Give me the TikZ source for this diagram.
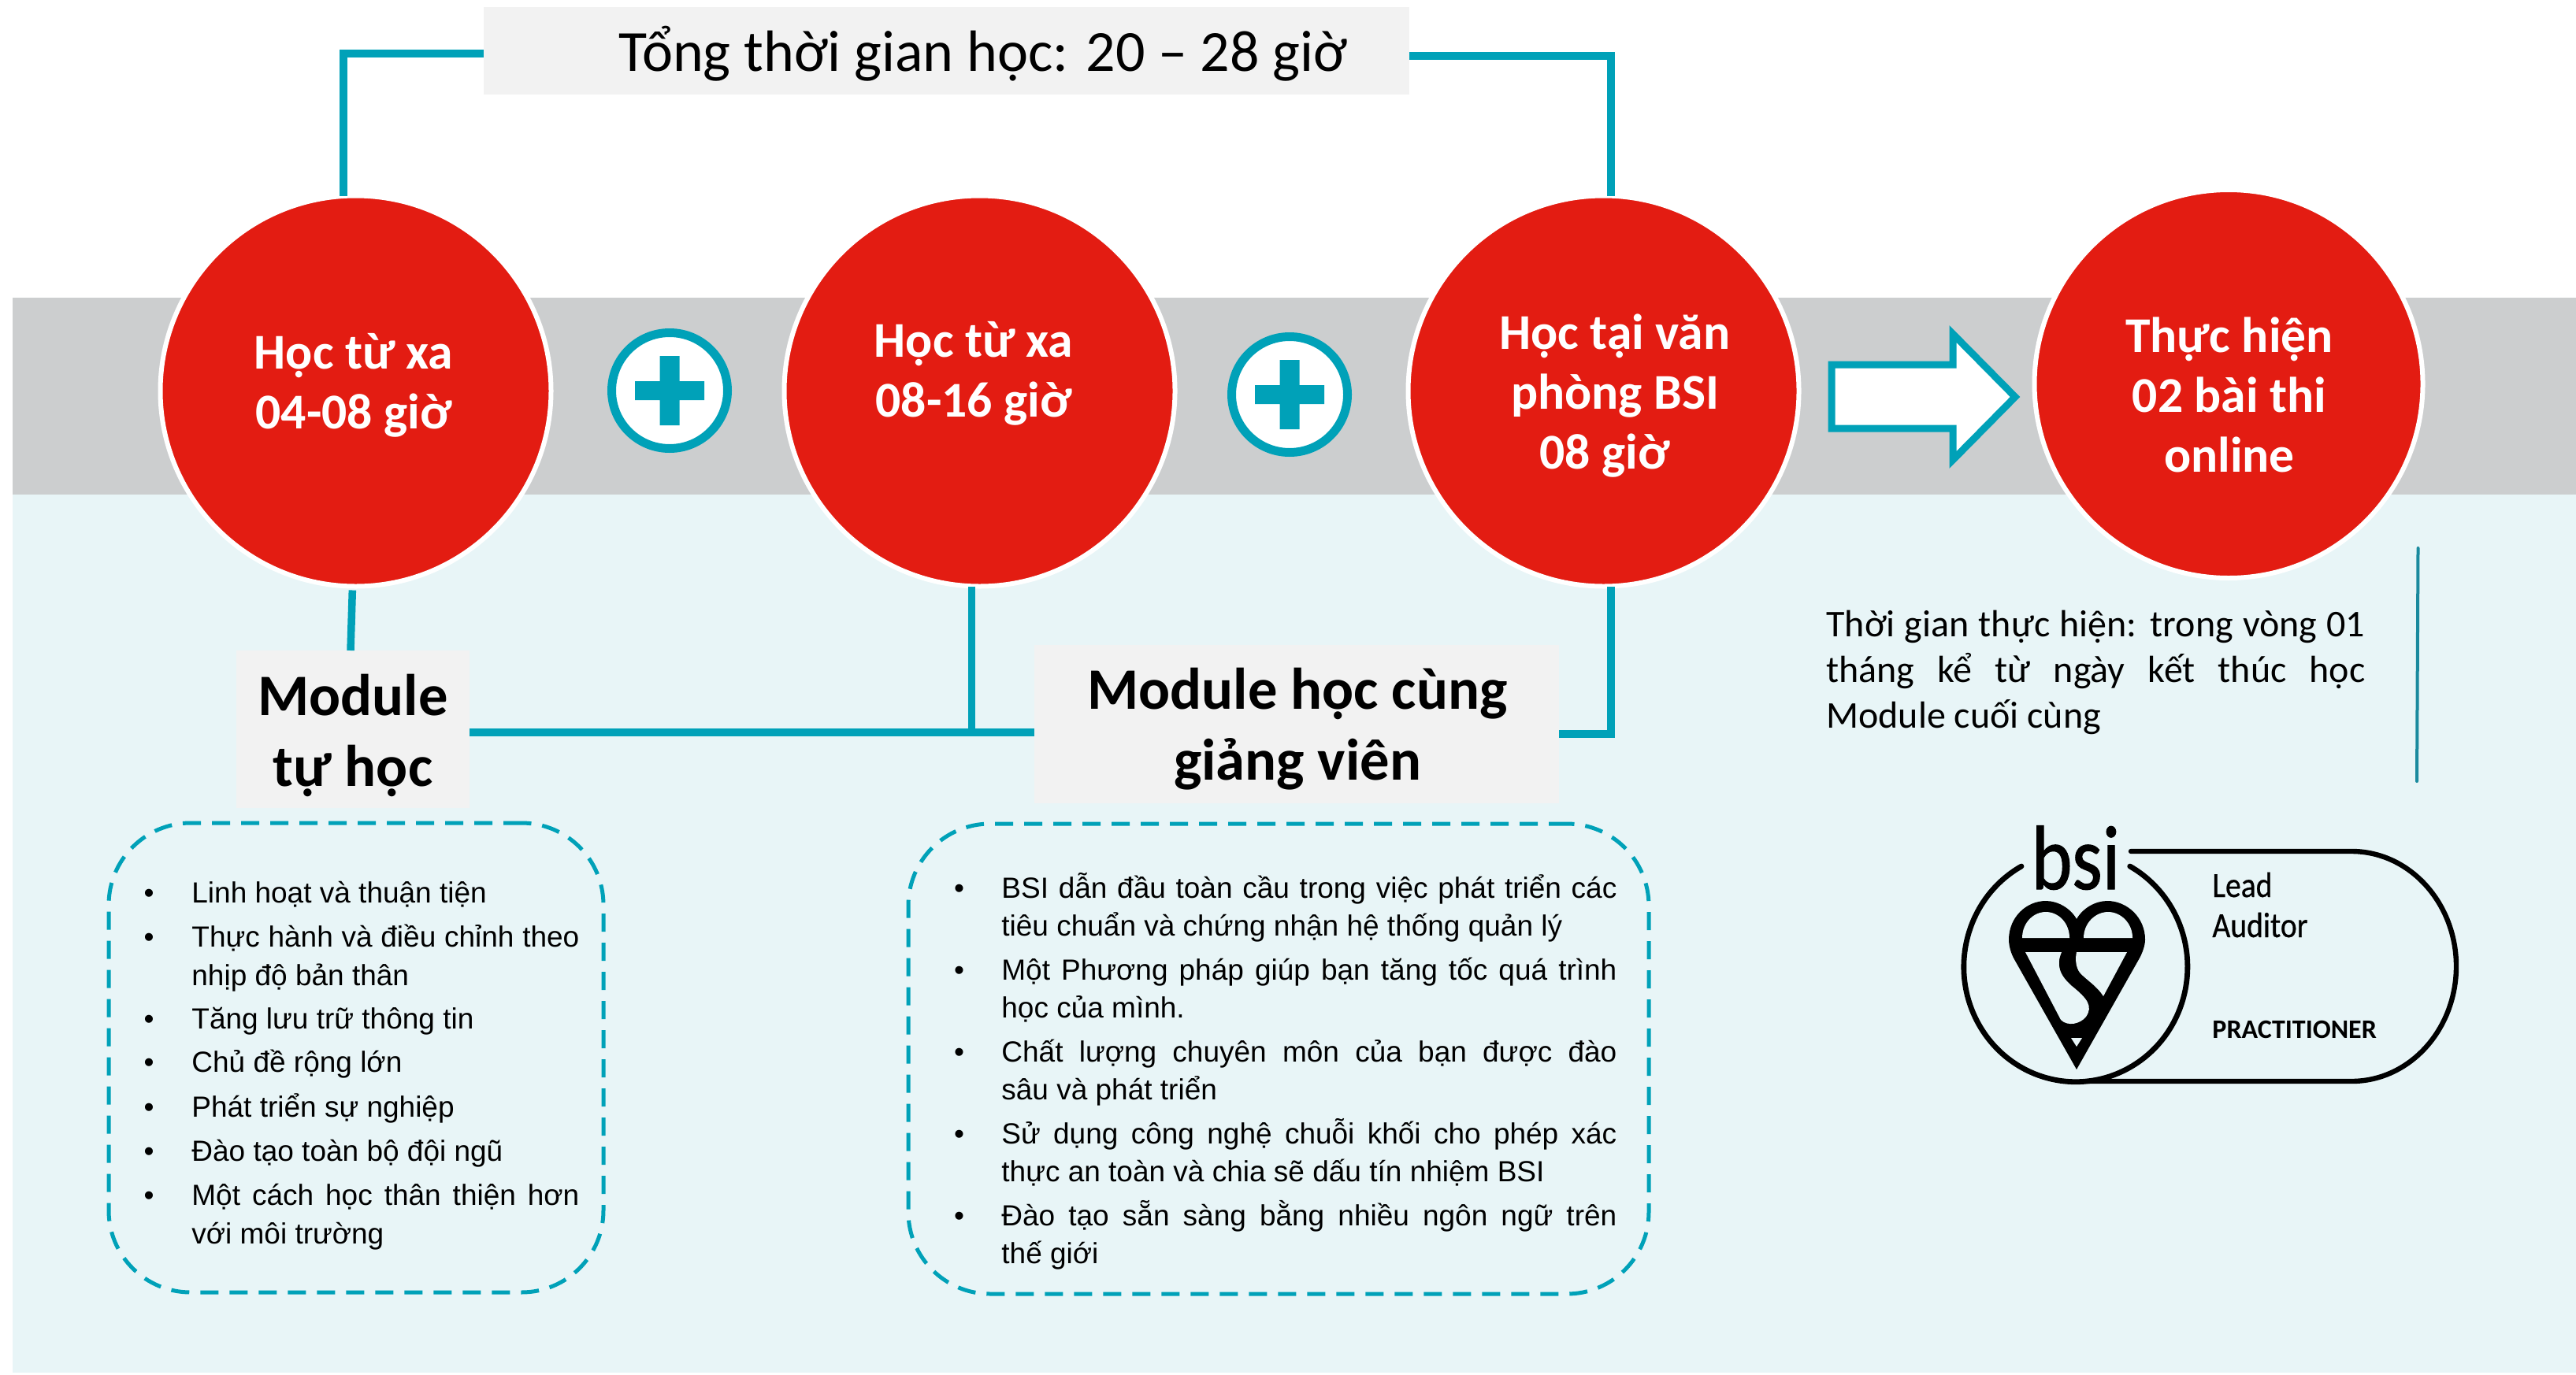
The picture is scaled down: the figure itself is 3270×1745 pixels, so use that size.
\documentclass[tikz,border=0pt]{standalone}
\usepackage{fontspec}
\setmainfont{Carlito}
\newfontfamily\arialf{Liberation Sans}
\definecolor{tealc}{HTML}{00A1B8}
\definecolor{tealdark}{HTML}{1A8A9E}
\definecolor{redc}{HTML}{E31C12}
\definecolor{bandgray}{HTML}{CCCECF}
\definecolor{palebg}{HTML}{E8F5F7}
\definecolor{boxgray}{HTML}{F2F2F2}
\newcommand\jw[2]{\hbox to #1{#2}}
\tikzset{
  redcircle/.style={circle,fill=redc,draw=white,line width=3pt,minimum size=248pt,inner sep=0,outer sep=0},
  circletext/.style={anchor=base,inner sep=0,text=white,align=center,font=\bfseries\fontsize{31.8}{38}\selectfont},
  graybox/.style={rectangle,fill=boxgray,inner sep=0,outer sep=0},
  modtext/.style={anchor=base,inner sep=0,align=center,font=\bfseries\fontsize{37.3}{45}\selectfont},
  conn/.style={draw=tealc,line width=4.75pt},
  plusring/.style={circle,fill=white,draw=tealc,line width=5.5pt,minimum size=73.5pt,inner sep=0,outer sep=0},
  dashbox/.style={rectangle,rounded corners=52pt,draw=tealc,line width=2.5pt,dash pattern=on 11.5pt off 7pt,inner sep=0,outer sep=0},
  li/.style={anchor=base west,inner sep=0,font=\arialf\fontsize{18.5}{22}\selectfont},
  bul/.style={anchor=base,inner sep=0,font=\arialf\fontsize{18.5}{22}\selectfont},
  note/.style={anchor=base west,inner sep=0,font=\fontsize{24}{28}\selectfont},
  logotext/.style={anchor=base west,inner sep=0,xscale=.88,font=\addfontfeature{FakeBold=0.6}\fontsize{22.5}{24}\selectfont},
}
\begin{document}
\begin{tikzpicture}[x=0.5pt,y=-0.5pt]
\useasboundingbox (0,0) rectangle (3270,1745);
% background bands
\fill[palebg] (16,627) rectangle (3270,1743);
\fill[bandgray] (16,378) rectangle (3270,628);

% title and module boxes
\node[graybox,minimum width=587.5pt,minimum height=55.5pt] (title) at (1201.5,64.5) {};
\node[anchor=base,inner sep=0,font=\fontsize{37}{40}\selectfont] (titletext) at (1248,90) {Tổng thời gian học: 20 – 28 giờ};
\node[graybox,minimum width=148pt,minimum height=100pt] (m1) at (448,926) {};
\node[modtext] (m1text) at (448,998) {Module\\tự học};
\node[graybox,minimum width=333pt,minimum height=100.5pt] (m2) at (1646,919.5) {};
\node[modtext] (m2text) at (1647,990) {Module học cùng\\giảng viên};

% red circles
\node[redcircle] (c1) at (451.5,496.5) {};
\node[redcircle] (c2) at (1243.5,496.5) {};
\node[redcircle] (c3) at (2035.5,496.5) {};
\node[redcircle,minimum size=246.5pt] (c4) at (2829,487.5) {};
\node[circletext] (c1text) at (449,544.5) {Học từ xa\\04-08 giờ};
\node[circletext] (c2text) at (1236,529) {Học từ xa\\08-16 giờ};
\node[circletext] (c3text) at (2050,595.5) {Học tại văn\\phòng BSI\\08 giờ\hspace*{13pt}};
\node[circletext] (c4text) at (2830,599) {Thực hiện\\02 bài thi\\online};

% connectors
\draw[conn] ([xshift=-7.75pt]c1.north) |- ([yshift=-1.75pt]title.west);
\draw[conn] ([yshift=-3.25pt]title.east) -| ([xshift=4.75pt]c3.north);
\draw[conn,shorten <=2.5pt] ([xshift=-2pt]c1.south) -- ([xshift=-1.5pt]m1.north);
\draw[conn] ([yshift=-2pt]m1.east) -- ([yshift=-5.25pt]m2.west);
\coordinate (junction) at (1233.5,930);
\draw[conn] ([xshift=-5pt]c2.south) -- (junction);
\draw[conn] ([yshift=-6.25pt]m2.east) -| ([xshift=4.75pt]c3.south);

% plus signs
\node[plusring] (p1) at (850,496) {};
\fill[tealc] (p1) +(-44,-12) rectangle +(44,12) +(-12.5,-44) rectangle +(12.5,44);
\node[plusring] (p2) at (1637,501) {};
\fill[tealc] (p2) +(-44,-12) rectangle +(44,12) +(-12.5,-44) rectangle +(12.5,44);

% block arrow
\draw[draw=tealc,fill=white,line width=4.5pt,miter limit=10]
  (2325,463) -- (2479,463) -- (2479,424) -- (2558,504) -- (2479,584) -- (2479,544) -- (2325,544) -- cycle;

% note to the right
\node[note] (n1) at (2318,808) {\jw{342pt}{Thời gian thực hiện: trong vòng 01}};
\node[note] (n2) at (2318,866) {\jw{342pt}{tháng kể từ ngày kết thúc học}};
\node[note] (n3) at (2318,924) {Module cuối cùng};
\coordinate (vt) at (3069.5,696);
\coordinate (vb) at (3068,992);
\draw[tealdark,line width=2pt,line cap=round] (vt) -- (vb);

% left list
\node[dashbox,minimum width=314pt,minimum height=298pt] (d1) at (452,1343) {};
\node[bul] (b11) at (189,1146) {•}; \node[li] (l11) at (243,1146) {Linh hoạt và thuận tiện};
\node[bul] (b12) at (189,1202.5) {•}; \node[li] (l12) at (243,1202.5) {\jw{246pt}{Thực hành và điều chỉnh theo}};
\node[li] (l12b) at (243,1251) {nhịp độ bản thân};
\node[bul] (b13) at (189,1306) {•}; \node[li] (l13) at (243,1306) {Tăng lưu trữ thông tin};
\node[bul] (b14) at (189,1361.5) {•}; \node[li] (l14) at (243,1361.5) {Chủ đề rộng lớn};
\node[bul] (b15) at (189,1418) {•}; \node[li] (l15) at (243,1418) {Phát triển sự nghiệp};
\node[bul] (b16) at (189,1474) {•}; \node[li] (l16) at (243,1474) {Đào tạo toàn bộ đội ngũ};
\node[bul] (b17) at (189,1530) {•}; \node[li] (l17) at (243,1530) {\jw{246pt}{Một cách học thân thiện hơn}};
\node[li] (l17b) at (243,1579) {với môi trường};

% middle list
\node[dashbox,minimum width=470pt,minimum height=298.5pt] (d2) at (1623,1344.5) {};
\node[bul] (b21) at (1217.5,1140) {•}; \node[li] (l21) at (1271,1140) {\jw{390.5pt}{BSI dẫn đầu toàn cầu trong việc phát triển các}};
\node[li] (l21b) at (1271,1188) {tiêu chuẩn và chứng nhận hệ thống quản lý};
\node[bul] (b22) at (1217.5,1244) {•}; \node[li] (l22) at (1271,1244) {\jw{390.5pt}{Một Phương pháp giúp bạn tăng tốc quá trình}};
\node[li] (l22b) at (1271,1292) {học của mình.};
\node[bul] (b23) at (1217.5,1348) {•}; \node[li] (l23) at (1271,1348) {\jw{390.5pt}{Chất lượng chuyên môn của bạn được đào}};
\node[li] (l23b) at (1271,1396) {sâu và phát triển};
\node[bul] (b24) at (1217.5,1452) {•}; \node[li] (l24) at (1271,1452) {\jw{390.5pt}{Sử dụng công nghệ chuỗi khối cho phép xác}};
\node[li] (l24b) at (1271,1500) {thực an toàn và chia sẽ dấu tín nhiệm BSI};
\node[bul] (b25) at (1217.5,1556) {•}; \node[li] (l25) at (1271,1556) {\jw{390.5pt}{Đào tạo sẵn sàng bằng nhiều ngôn ngữ trên}};
\node[li] (l25b) at (1271,1604) {thế giới};

% BSI logo
\draw[black,line width=3.4pt,line cap=round] (2566,1100) arc[start angle=119,end angle=421,x radius=71pt,y radius=73pt];
\draw[black,line width=3.2pt,line cap=round] (2705,1081) -- (2985,1081) arc[start angle=90,end angle=-90,x radius=66.5pt,y radius=73pt] -- (2650,1373);
\fill[black] (2636,1358) -- (2558,1220) .. controls (2552,1210) and (2550,1200) .. (2550,1193)
  .. controls (2550,1165) and (2572,1144) .. (2597,1144)
  .. controls (2612,1144) and (2628,1153) .. (2636,1167)
  .. controls (2644,1153) and (2660,1144) .. (2675,1144)
  .. controls (2700,1144) and (2723,1165) .. (2723,1193)
  .. controls (2723,1200) and (2720,1210) .. (2714,1220) -- cycle;
\fill[palebg] (2567,1191) .. controls (2567,1172) and (2581,1158) .. (2597,1158) .. controls (2613,1158) and (2627,1172) .. (2627,1191) -- cycle;
\fill[palebg] (2645,1191) .. controls (2645,1172) and (2660,1158) .. (2676,1158) .. controls (2692,1158) and (2707,1172) .. (2707,1191) -- cycle;
\fill[palebg] (2571,1209) -- (2617,1209) .. controls (2610,1225) and (2614,1238) .. (2630,1252)
  .. controls (2650,1268) and (2657,1278) .. (2648,1291) .. controls (2641,1300) and (2625,1304) .. (2616,1295) -- cycle;
\fill[palebg] (2636,1209) -- (2700,1209) -- (2670,1265) .. controls (2662,1252) and (2648,1244) .. (2640,1235)
  .. controls (2635,1228) and (2634,1218) .. (2636,1209) -- cycle;
\fill[palebg] (2629,1318) -- (2643,1318) -- (2636,1329) -- cycle;
\node[anchor=base,inner sep=0,xscale=.85,font=\addfontfeature{FakeBold=1}\fontsize{58}{60}\selectfont] (bsi) at (2635,1129) {bsi};
\node[logotext] (lead) at (2808,1139) {Lead};
\node[logotext] (auditor) at (2808,1190) {Auditor};
\node[anchor=base west,inner sep=0,font=\bfseries\fontsize{17}{20}\selectfont] (pract) at (2808,1318) {PRACTITIONER};
\end{tikzpicture}
\end{document}
